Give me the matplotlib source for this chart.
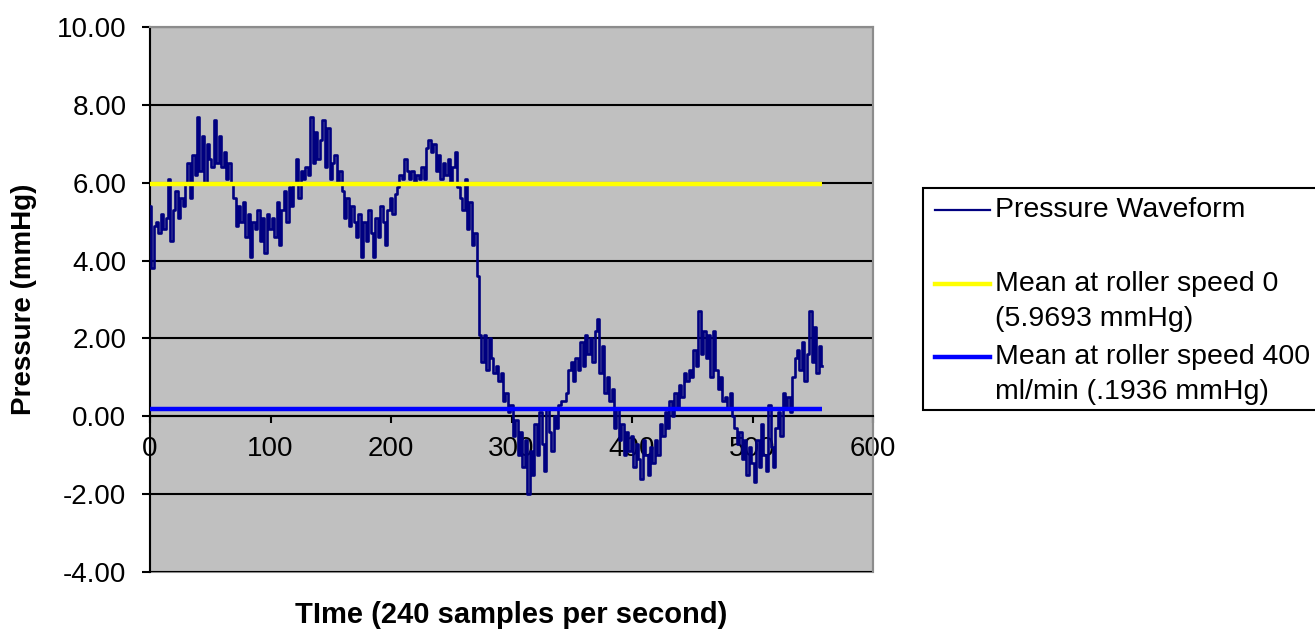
import numpy as np
import matplotlib
matplotlib.use("Agg")
import matplotlib.pyplot as plt
from matplotlib.lines import Line2D
from matplotlib.patches import Rectangle

# ---------------- data ----------------
sample_step = 2  # values read every 2 samples
pressure = [
    5.4, 3.8, 4.9, 5.0, 4.7, 5.2, 4.8, 5.1, 6.1, 4.5,
    5.3, 5.8, 5.1, 5.6, 5.4, 6.0, 6.5, 5.6, 6.7, 6.2,
    7.7, 6.3, 7.2, 6.0, 7.0, 6.6, 6.4, 7.6, 6.5, 7.2,
    6.4, 6.8, 6.1, 6.5, 6.0, 5.6, 4.9, 5.4, 5.0, 5.5,
    4.6, 5.2, 4.1, 5.0, 4.8, 5.3, 4.5, 5.1, 4.2, 5.2,
    4.8, 5.1, 4.6, 5.5, 4.4, 5.3, 5.8, 5.0, 5.9, 5.4,
    6.0, 6.6, 5.6, 6.3, 6.1, 6.4, 6.2, 7.7, 6.5, 7.3,
    6.6, 7.1, 7.6, 6.4, 7.4, 6.1, 6.5, 6.7, 6.0, 6.3,
    5.8, 5.1, 5.6, 4.9, 5.4, 5.0, 4.6, 5.2, 4.1, 5.0,
    4.5, 5.3, 4.7, 4.1, 5.1, 4.6, 5.4, 5.0, 4.4, 5.3,
    5.6, 5.2, 5.7, 5.9, 6.2, 6.1, 6.6, 6.3, 6.1, 6.3,
    6.0, 6.2, 6.1, 6.4, 6.1, 6.9, 7.1, 6.8, 7.0, 6.3,
    6.7, 6.1, 6.5, 6.2, 6.6, 6.0, 6.4, 6.8, 5.9, 5.6,
    5.3, 6.1, 4.8, 5.5, 4.4, 4.7, 3.6, 2.1, 1.4, 2.1,
    1.2, 2.0, 1.5, 1.1, 1.3, 0.9, 1.1, 0.4, 0.6, 0.1,
    0.3, -0.5, -0.1, -1.0, -0.4, -1.3, -0.6, -2.0, -0.9, -1.5,
    -0.2, -1.0, 0.1, -0.7, -1.4, 0.2, -0.4, -0.9, 0.0, -0.3,
    0.3, 0.4, 0.4, 0.6, 1.2, 1.4, 0.9, 1.5, 1.2, 1.9,
    1.3, 2.1, 1.6, 2.0, 1.4, 2.2, 2.5, 1.1, 1.8, 0.6,
    1.0, 0.4, 0.7, -0.3, 0.2, -0.6, -0.2, -1.0, -0.4, -0.9,
    -0.5, -1.3, -0.7, -1.1, -1.6, -0.6, -1.0, -1.5, -0.8, -1.2,
    -0.6, -1.0, -0.2, -0.5, 0.1, -0.3, 0.4, 0.0, 0.6, 0.2,
    0.8, 0.5, 1.1, 0.9, 1.2, 1.0, 1.7, 1.3, 2.7, 1.6,
    2.2, 1.5, 2.1, 1.0, 2.2, 1.2, 0.7, 1.0, 0.4, 0.5,
    0.2, 0.6, 0.0, -0.3, -0.7, -0.4, -1.1, -0.6, -1.5, -0.8,
    -1.2, -1.7, -0.6, -1.3, -0.2, -1.0, -1.4, 0.3, -0.8, -1.3,
    -0.3, 0.1, -0.5, 0.6, 0.2, 0.5, 0.1, 1.0, 1.5, 1.7,
    1.2, 1.9, 0.9, 1.6, 2.7, 1.4, 2.3, 1.1, 1.8, 1.3,
]
mean_speed0 = 5.9693
mean_speed400 = 0.1936
series_labels = [
    "Pressure Waveform",
    "Mean at roller speed 0\n(5.9693 mmHg)",
    "Mean at roller speed 400\nml/min (.1936 mmHg)",
]
x_ticks = [0, 100, 200, 300, 400, 500, 600]
y_ticks = [-4, -2, 0, 2, 4, 6, 8, 10]

# ---------------- figure ----------------
W, H = 1315, 630
plt.rcParams['font.family'] = ['Liberation Sans', 'DejaVu Sans']
fig = plt.figure(figsize=(W / 100, H / 100), dpi=100)
fig.patch.set_facecolor('white')


def fx(px):
    return px / W


def fy(py):
    return 1 - py / H


ax = fig.add_axes([fx(150), fy(572), fx(873) - fx(150), fy(27) - fy(572)])
ax.set_facecolor('#C0C0C0')

samples = np.arange(len(pressure)) * sample_step
ax.plot(samples, pressure, color='#000080', lw=1.9, zorder=3,
        drawstyle='steps-mid')
ax.hlines(mean_speed0, samples[0], samples[-1], color='#FFFF00', lw=3.2, zorder=4)
ax.hlines(mean_speed400, samples[0], samples[-1], color='#0000FF', lw=3.2, zorder=4)

ax.set_xlim(0, 600)
ax.set_ylim(-4, 10)
ax.set_xticks(x_ticks)
ax.set_yticks(y_ticks)
ax.set_yticklabels([f"{v:.2f}" for v in y_ticks])
ax.grid(axis='y', color='black', lw=1.5, zorder=1)
ax.set_axisbelow(True)

for s in ['top', 'right']:
    ax.spines[s].set_color('#8C8C8C')
    ax.spines[s].set_linewidth(1.5)
ax.spines['left'].set_color('black')
ax.spines['left'].set_linewidth(1.5)
ax.spines['bottom'].set_position(('data', 0))
ax.spines['bottom'].set_color('black')
ax.spines['bottom'].set_linewidth(1.5)
ax.add_patch(Rectangle((0, 0), 1, 1, transform=ax.transAxes, fill=False,
                       edgecolor='#8C8C8C', lw=1.5, zorder=0.5, clip_on=False))

ax.tick_params(axis='y', direction='out', length=6, width=1.5, pad=11,
               labelsize=20, colors='black')
ax.tick_params(axis='x', direction='out', length=5, width=1.5, pad=9,
               labelsize=20, colors='black')

ax.set_xlabel("TIme (240 samples per second)", fontsize=21, fontweight='bold',
              va='center')
ax.xaxis.set_label_coords(0.5, (572 - 615) / 545)
ax.set_ylabel("Pressure (mmHg)", fontsize=20, fontweight='bold',
              va='center', ha='center')
ax.yaxis.set_label_coords((24 - 150) / 723, 0.5)

# ---------------- legend (drawn manually) ----------------
fig.add_artist(Rectangle((fx(923), fy(410)), fx(1340) - fx(923), fy(188) - fy(410),
                         transform=fig.transFigure, facecolor='white',
                         edgecolor='black', lw=1.5))
leg_colors = ['#000080', '#FFFF00', '#0000FF']
leg_lw = [1.6, 3.2, 3.2]
leg_y = [210, 284, 357]
for lab, c, lw, yy in zip(series_labels, leg_colors, leg_lw, leg_y):
    fig.add_artist(Line2D([fx(935), fx(990)], [fy(yy), fy(yy)],
                          transform=fig.transFigure, color=c, lw=lw))
    lines = lab.split("\n")
    for i, t in enumerate(lines):
        fig.text(fx(995), fy(yy + i * 35), t, fontsize=20.5, ha='left',
                 va='center', color='black')

fig.savefig("out.png", dpi=100)
